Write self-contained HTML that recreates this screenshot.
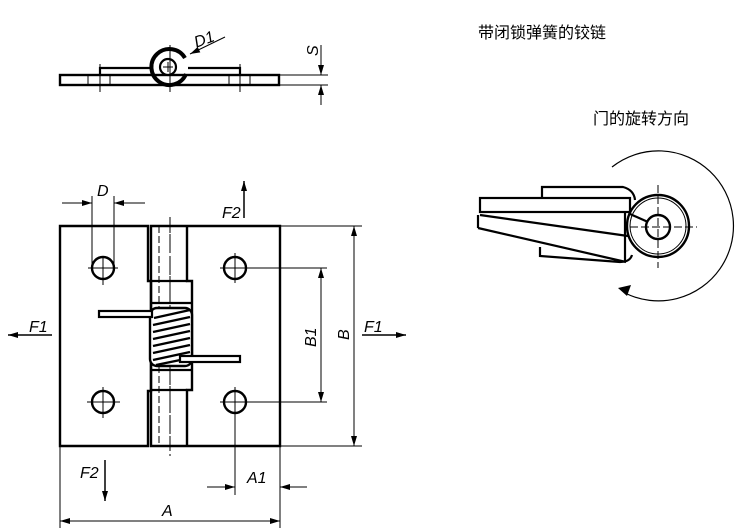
<!DOCTYPE html>
<html><head><meta charset="utf-8"><style>
html,body{margin:0;padding:0;background:#fff;width:750px;height:531px;overflow:hidden}
svg{display:block}
text{font-family:"Liberation Sans",sans-serif;font-style:italic;font-size:16px;fill:#000}
.cn{font-family:"Liberation Sans","Noto Sans CJK SC",sans-serif;font-style:normal;font-size:16px}
</style></head><body>
<svg width="750" height="531" viewBox="0 0 750 531" xmlns="http://www.w3.org/2000/svg">
<defs>
<marker id="ar" viewBox="0 0 10 6" refX="10" refY="3" markerWidth="11" markerHeight="6" orient="auto-start-reverse" markerUnits="userSpaceOnUse"><path d="M0,0 L10,3 L0,6 z" fill="#000"/></marker>
</defs>
<text class="cn" x="478" y="38">带闭锁弹簧的铰链</text>
<text class="cn" x="593" y="124">门的旋转方向</text>

<!-- TOP VIEW -->
<g stroke="#000" fill="none">
<rect x="60" y="75" width="219" height="10" stroke-width="2.4"/>
<path d="M100,75 V68 H152 M188,68 H240 V75" stroke-width="2.2"/>
<path d="M185,58 A18,18 0 1 0 186,74" stroke-width="4"/>
<circle cx="168" cy="67" r="8" stroke-width="2.2" fill="#fff"/>
<path d="M168,62 v10 M163,67 h10" stroke-width="1"/>
<path d="M100,64 V92 M240,64 V92 M170,45 V92 M88,75 V85 M110,75 V85 M229,75 V85 M250,75 V85" stroke-width="1"/>
<line x1="225" y1="37" x2="190" y2="54" stroke-width="1" marker-end="url(#ar)"/>
<path d="M279,75 H328 M279,85 H328" stroke-width="1"/>
<line x1="321" y1="45" x2="321" y2="75" stroke-width="1" marker-end="url(#ar)"/>
<line x1="321" y1="105" x2="321" y2="85" stroke-width="1" marker-end="url(#ar)"/>
</g>
<text x="194" y="46" transform="rotate(-20 200 40)">D1</text>
<text x="0" y="0" transform="translate(318,56) rotate(-90)">S</text>

<!-- MAIN VIEW -->
<g stroke="#000" fill="none">
<path d="M148,226 H60 V446 H148 V391 H151 V281 H148 Z" stroke-width="2.4"/>
<path d="M151,226 V446 H280 V226 Z" stroke-width="2.4"/>
<path d="M187,226 V281 H192 V390 H187 V446" stroke-width="2.4"/>
<path d="M151,281 H187 M151,303 H192 M151,370 H192 M151,390 H187" stroke-width="2.2"/>
<path d="M159,226 V446 M170,226 V446" stroke-width="1" stroke-dasharray="7,3"/>
<line x1="170" y1="217" x2="170" y2="458" stroke-width="1" stroke-dasharray="14,3,2,3"/>
<rect x="150" y="308" width="42" height="58" rx="7" fill="#fff" stroke-width="2.4"/>
<g stroke-width="2.4">
<line x1="154" y1="318" x2="190" y2="310"/><line x1="153" y1="325" x2="190" y2="317"/>
<line x1="153" y1="332" x2="190" y2="324"/><line x1="153" y1="339" x2="190" y2="331"/>
<line x1="153" y1="346" x2="190" y2="338"/><line x1="153" y1="353" x2="190" y2="345"/>
<line x1="153" y1="360" x2="190" y2="352"/><line x1="156" y1="365" x2="190" y2="358"/>
</g>
<rect x="99" y="311" width="53" height="6" fill="#fff" stroke-width="2.2"/>
<rect x="180" y="356" width="60" height="6" fill="#fff" stroke-width="2.2"/>
<g stroke-width="2.4">
<circle cx="103" cy="268" r="11"/><circle cx="103" cy="402" r="11"/>
<circle cx="235" cy="268" r="11"/><circle cx="235" cy="402" r="11"/>
</g>
<g stroke-width="1">
<path d="M88,268 H118 M103,257 V285 M87,402 H120 M103,387 V418"/>
<path d="M220,268 H327 M235,253 V283 M220,402 H327 M235,387 V495"/>
<path d="M92,196 V268 M114,196 V268"/>
<path d="M280,226 H362 M280,446 H362 M60,446 V528 M280,446 V528"/>
</g>
<line x1="321" y1="268" x2="321" y2="402" stroke-width="1" marker-start="url(#ar)" marker-end="url(#ar)"/>
<line x1="354" y1="226" x2="354" y2="446" stroke-width="1" marker-start="url(#ar)" marker-end="url(#ar)"/>
<line x1="60" y1="521" x2="280" y2="521" stroke-width="1" marker-start="url(#ar)" marker-end="url(#ar)"/>
<line x1="62" y1="203" x2="92" y2="203" stroke-width="1" marker-end="url(#ar)"/>
<line x1="145" y1="203" x2="114" y2="203" stroke-width="1" marker-end="url(#ar)"/>
<line x1="207" y1="487" x2="235" y2="487" stroke-width="1" marker-end="url(#ar)"/>
<line x1="307" y1="487" x2="280" y2="487" stroke-width="1" marker-end="url(#ar)"/>
<line x1="244" y1="218" x2="244" y2="181" stroke-width="1.5" marker-end="url(#ar)"/>
<line x1="105" y1="460" x2="105" y2="501" stroke-width="1.5" marker-end="url(#ar)"/>
<line x1="52" y1="335" x2="8" y2="335" stroke-width="1.5" marker-end="url(#ar)"/>
<line x1="362" y1="335" x2="406" y2="335" stroke-width="1.5" marker-end="url(#ar)"/>
</g>
<text x="97" y="196">D</text>
<text x="222" y="218">F2</text>
<text x="29" y="332">F1</text>
<text x="364" y="332">F1</text>
<text x="80" y="478">F2</text>
<text x="247" y="483">A1</text>
<text x="162" y="516">A</text>
<text transform="translate(316,347) rotate(-90)">B1</text>
<text transform="translate(349,340) rotate(-90)">B</text>

<!-- RIGHT VIEW -->
<g stroke="#000" fill="none" stroke-width="2.2">
<path d="M542,198 V187 H623 Q634,190 635,200"/>
<rect x="480" y="198" width="150" height="14"/>
<path d="M480,215 L628,236 M478,228 L626,262"/>
<path d="M478,215 V228"/>
<path d="M540,247 V256 L620,262 Q630,262 632,255"/>
<path d="M625,212 V262"/>
<circle cx="658" cy="226" r="31" stroke-width="2.4"/>
<circle cx="658" cy="226" r="28" stroke-width="1"/>
<circle cx="658" cy="227" r="12" stroke-width="2.4"/>
<path d="M630,214 L648,222" />
<g stroke-width="1"><path d="M658,185 V268 M630,227 H697" stroke-dasharray="8,3"/></g>
<path d="M612,167 A75,75 0 1 1 625,293" stroke-width="1.2"/>
<path d="M618,288 L631,285 L627,296 Z" fill="#000" stroke="none"/>
</g>
</svg>
</body></html>
